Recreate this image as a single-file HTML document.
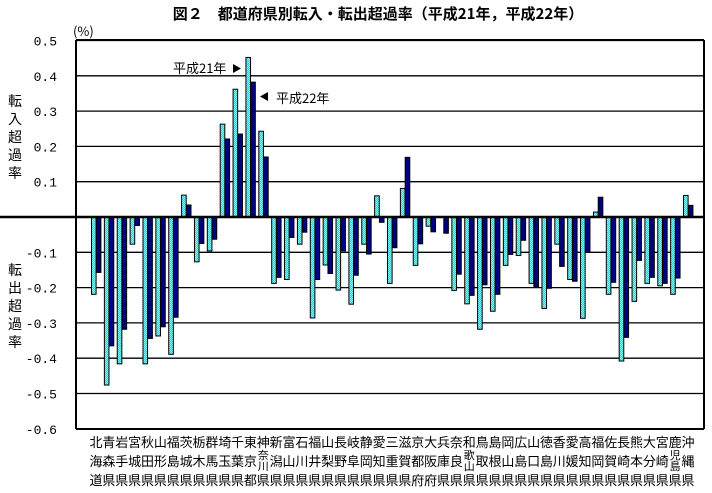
<!DOCTYPE html>
<html><head><meta charset="utf-8"><style>
body{margin:0;background:#fff;}
svg{display:block;font-family:"Liberation Sans","Noto Sans CJK JP",sans-serif;}
</style></head><body>
<svg id="s" width="712" height="493" xmlns="http://www.w3.org/2000/svg">
<defs>
<pattern id="p" width="2" height="2" patternUnits="userSpaceOnUse">
<rect width="2" height="2" fill="#00dede"/><rect width="1" height="1" fill="#80ffff"/><rect x="1" y="1" width="1" height="1" fill="#80ffff"/>
</pattern>
</defs>
<text x="378" y="19" text-anchor="middle" font-size="15" font-weight="bold" font-family="'Noto Sans CJK JP',sans-serif">図２　都道府県別転入・転出超過率（平成21年，平成22年）</text>
<text x="73" y="36" font-size="13" font-family="'Noto Sans CJK JP',sans-serif">(%)</text>
<g id="grid"></g>
<g id="bars"></g>
<g font-size="14" font-family="'Noto Sans CJK JP',sans-serif" text-anchor="middle">
<text x="15" y="106">転</text><text x="15" y="124">入</text><text x="15" y="142">超</text><text x="15" y="160">過</text><text x="15" y="178">率</text>
<text x="15" y="275">転</text><text x="15" y="293">出</text><text x="15" y="311">超</text><text x="15" y="329">過</text><text x="15" y="347">率</text>
</g>
<text x="173" y="73" font-size="13" font-family="'Noto Sans CJK JP',sans-serif">平成21年</text>
<polygon points="233,64 241,68.5 233,73" fill="#000"/>
<polygon points="268,92 260,96.5 268,101" fill="#000"/>
<text x="276" y="103" font-size="13" font-family="'Noto Sans CJK JP',sans-serif">平成22年</text>
<g id="xl" font-size="13" font-family="'Noto Sans CJK JP',sans-serif" text-anchor="middle"></g>
</svg>
<script>
var NS="http://www.w3.org/2000/svg";
function el(p,t,a,txt){var e=document.createElementNS(NS,t);for(var k in a)e.setAttribute(k,a[k]);if(txt!=null)e.textContent=txt;p.appendChild(e);return e;}
var Y0=217,S=353,L=76,R=704;
var g=document.getElementById('grid');
for(var i=-6;i<=5;i++){var y=Y0-i*S/10;
 if(i!=0){ el(g,'line',{x1:L,x2:R,y1:y,y2:y,stroke:'#000','stroke-width':1.3});
 el(g,'text',{x:57,y:y+5,'text-anchor':'end','font-size':13,'font-family':"'Liberation Mono',monospace"},(i/10).toFixed(1));}
}
el(g,'line',{x1:L,x2:L,y1:40,y2:429,stroke:'#000','stroke-width':2});
el(g,'line',{x1:R,x2:R,y1:40,y2:429,stroke:'#000','stroke-width':2});
var c=[-0.219,-0.476,-0.416,-0.077,-0.416,-0.337,-0.389,0.062,-0.127,-0.096,0.263,0.362,0.452,0.243,-0.188,-0.177,-0.077,-0.286,-0.136,-0.207,-0.247,-0.077,0.06,-0.188,0.081,-0.137,-0.026,0,-0.208,-0.246,-0.318,-0.267,-0.137,-0.109,-0.188,-0.259,-0.077,-0.177,-0.287,0.014,-0.219,-0.408,-0.239,-0.188,-0.195,-0.219,0.061];
var n=[-0.157,-0.365,-0.318,-0.024,-0.344,-0.311,-0.284,0.034,-0.075,-0.063,0.221,0.235,0.382,0.17,-0.171,-0.058,-0.043,-0.177,-0.16,-0.096,-0.165,-0.105,-0.015,-0.087,0.169,-0.076,-0.042,-0.046,-0.162,-0.222,-0.192,-0.219,-0.106,-0.066,-0.198,-0.202,-0.14,-0.182,-0.1,0.056,-0.185,-0.341,-0.123,-0.171,-0.188,-0.173,0.033];
var b=document.getElementById('bars');
function bar(x,v,f){if(Math.abs(v)<0.001)return;var y=v>0?Y0-v*S:Y0,h=Math.abs(v)*S;el(b,'rect',{x:x,y:y,width:4.6,height:h,fill:f,stroke:'#000','stroke-width':1});}
for(var i=0;i<47;i++){var x=91+12.87*i;bar(x+0.5,c[i],'url(#p)');bar(x+5.3,n[i],'#000080');}
el(b,'line',{x1:0,x2:R,y1:Y0,y2:Y0,stroke:'#000','stroke-width':2.5});
el(b,'line',{x1:L,x2:R,y1:40,y2:40,stroke:'#000','stroke-width':2});
el(b,'line',{x1:L,x2:R,y1:429,y2:429,stroke:'#000','stroke-width':2});
var names=["北海道","青森県","岩手県","宮城県","秋田県","山形県","福島県","茨城県","栃木県","群馬県","埼玉県","千葉県","東京都","神奈川県","新潟県","富山県","石川県","福井県","山梨県","長野県","岐阜県","静岡県","愛知県","三重県","滋賀県","京都府","大阪府","兵庫県","奈良県","和歌山県","鳥取県","島根県","岡山県","広島県","山口県","徳島県","香川県","愛媛県","高知県","福岡県","佐賀県","長崎県","熊本県","大分県","宮崎県","鹿児島県","沖縄県"];
var xl=document.getElementById('xl');
for(var i=0;i<47;i++){var cx=96+12.87*i,s=names[i];
 el(xl,'text',{x:cx,y:447},s[0]);
 if(s.length==3){el(xl,'text',{x:cx,y:466},s[1]);el(xl,'text',{x:cx,y:485},s[2]);}
 else{el(xl,'text',{x:cx,y:459,'font-size':11},s[1]);el(xl,'text',{x:cx,y:470,'font-size':11},s[2]);el(xl,'text',{x:cx,y:485},s[3]);}
}
</script>
</body></html>
